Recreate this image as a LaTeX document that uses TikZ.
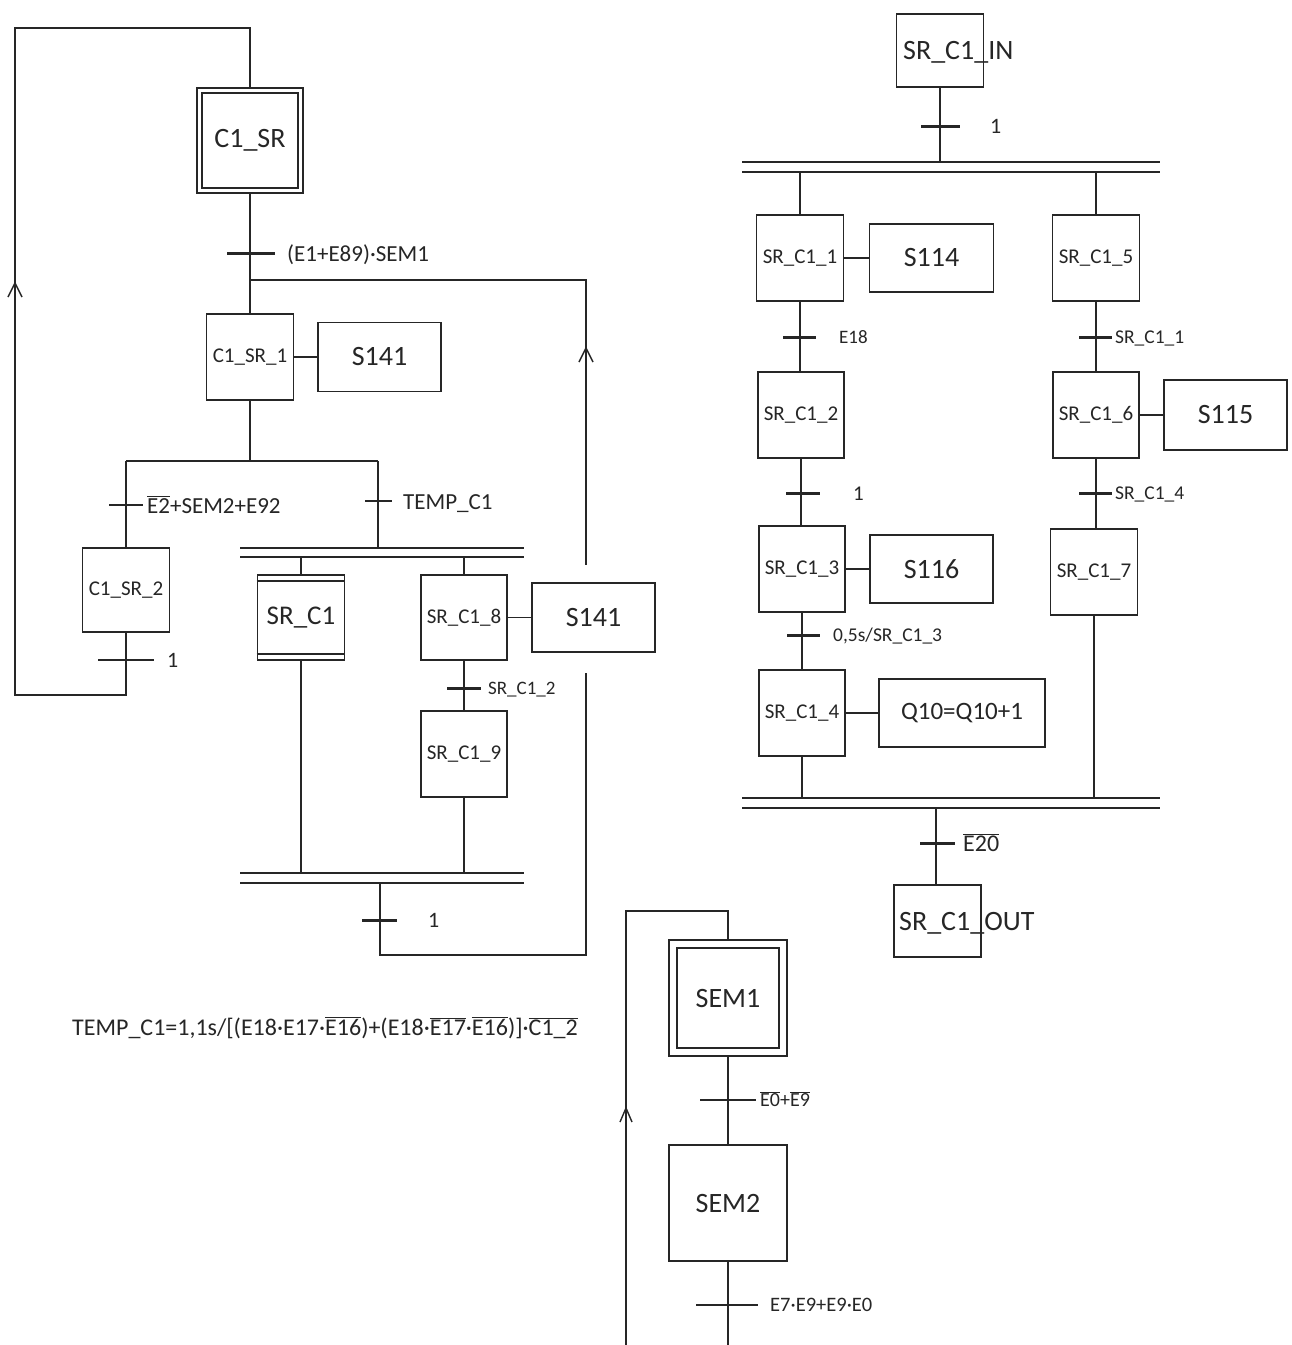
\documentclass[tikz,border=0pt]{standalone}
\usepackage{fontspec}
\setmainfont{Carlito}
\usetikzlibrary{calc}
\definecolor{ink}{gray}{0.15}
\newcommand\ovl[1]{$\overline{\mbox{#1}}$}
\newcommand\fsz[1]{\fontsize{#1}{#1}\selectfont}
\begin{document}
\begin{tikzpicture}[x=1pt,y=-1pt,
  ln/.style={draw=ink,line width=1.6pt},
  stepbox/.style={draw=ink,line width=1.6pt,inner sep=0pt,text=ink},
  actbox/.style={draw=ink,line width=1.6pt,inner sep=0pt,text=ink,font=\fsz{28}},
  tbar/.style={draw=ink,line width=3pt},
  tbarthin/.style={draw=ink,line width=2pt},
  tlab/.style={anchor=base west,inner sep=0pt,text=ink},
  chev/.style={draw=ink,line width=1.4pt}]
\useasboundingbox[fill=white] (0,0) rectangle (1292,1345);

% ================= LEFT CHART =================
\node[stepbox,minimum width=106pt,minimum height=105pt,font=\fsz{28}] (c1sr) at (250,140.5) {C1\_SR};
\draw[ln] ($(c1sr.north west)+(6,6)$) rectangle ($(c1sr.south east)+(-6,-6)$);
\node[stepbox,minimum width=87pt,minimum height=86pt,font=\fsz{21}] (c1sr1) at (250,357) {C1\_SR\_1};
\node[actbox,minimum width=123pt,minimum height=69pt] (s141a) at (379.5,357) {S141};
\node[stepbox,minimum width=87pt,minimum height=84pt,font=\fsz{21}] (c1sr2) at (126,590) {C1\_SR\_2};
\node[stepbox,minimum width=87pt,minimum height=85pt,font=\fsz{27}] (srC1) at (301,617.5) {SR\_C1};
\draw[ln] ($(srC1.north west)+(0,7)$) -- ($(srC1.north east)+(0,7)$);
\draw[ln] ($(srC1.south west)+(0,-7)$) -- ($(srC1.south east)+(0,-7)$);
\node[stepbox,minimum width=86pt,minimum height=85pt,font=\fsz{21}] (srC18) at (464,617.5) {SR\_C1\_8};
\node[actbox,minimum width=123pt,minimum height=69pt] (s141b) at (593.5,617.5) {S141};
\node[stepbox,minimum width=86pt,minimum height=86pt,font=\fsz{21}] (srC19) at (464,754) {SR\_C1\_9};

\coordinate (lt) at (15,28);
\coordinate (lb) at (15,695);
\draw[ln] (c1sr.north) |- (lt) -- (lb) -| (c1sr2.south);
\draw[chev] (8,297) -- (15,283) -- (22,297);

\draw[ln] (c1sr.south) -- (c1sr1.north);
\draw[tbar] (227,253) -- (275,253);
\node[tlab,font=\fsz{23}] (lbA) at (287,261) {(E1+E89)·SEM1};
\coordinate (j1) at (250,280);
\coordinate (r0) at (586,280);
\coordinate (r1) at (586,565);
\coordinate (r2) at (586,673);
\coordinate (rb) at (586,955);
\draw[ln] (j1) -- (r0) -- (r1);
\draw[chev] (579,362) -- (586,348) -- (593,362);
\draw[ln] (c1sr1.east) -- (s141a.west);

\coordinate (d0) at (250,461);
\coordinate (dl) at (126,461);
\coordinate (dr) at (378,461);
\coordinate (drb) at (378,548);
\draw[line width=2.2pt,draw=ink] (c1sr1.south) -- (d0);
\draw[ln] (dl) -- (dr);
\draw[ln] (dl) -- (c1sr2.north);
\draw[ln] (dr) -- (drb);
\draw[tbarthin] (109,505) -- (143,505);
\node[tlab,font=\fsz{23}] (lbB) at (147,513) {\ovl{E2}+SEM2+E92};
\draw[tbarthin] (365,501) -- (392,501);
\node[tlab,font=\fsz{23}] (lbC) at (403,509) {TEMP\_C1};
\draw[tbarthin] (98,660) -- (154,660);
\node[tlab,font=\fsz{22}] (lbD) at (167,667) {1};

% upper sync
\draw[ln] (240,548) -- (524,548);
\draw[ln] (240,557) -- (524,557);
\draw[ln] (srC1.north |- 0,557) -- (srC1.north);
\draw[ln] (srC18.north |- 0,557) -- (srC18.north);
\draw[ln] (srC18.east) -- (s141b.west);
\draw[ln] (srC18.south) -- (srC19.north);
\draw[tbar] (447,688) -- (481,688);
\node[tlab,font=\fsz{19}] (lbE) at (488,694) {SR\_C1\_2};
\draw[ln] (srC1.south) -- (srC1.south |- 0,873);
\draw[ln] (srC19.south) -- (srC19.south |- 0,873);
% lower sync
\draw[ln] (240,873) -- (524,873);
\draw[ln] (240,883) -- (524,883);
\coordinate (lo0) at (380,883);
\draw[ln] (lo0) |- (rb) -- (r2);
\draw[tbar] (362,920) -- (397,920);
\node[tlab,font=\fsz{22}] (lbF) at (428,927) {1};

% formula
\node[tlab,font=\fsz{24}] (formula) at (72,1035) {TEMP\_C1=1,1s/[(E18·E17·\ovl{E16})+(E18·\ovl{E17}·\ovl{E16})]·\ovl{C1\_2}};

% ================= RIGHT CHART =================
\node[stepbox,minimum width=87pt,minimum height=73pt] (srin) at (940,50.5) {};
\node[tlab,font=\fsz{28}] (srinT) at (903,59) {SR\_C1\_IN};
\draw[ln] (srin.south) -- (940,162);
\draw[tbar] (921,126) -- (960,126);
\node[tlab,font=\fsz{22}] (lbG) at (990,133) {1};
\draw[ln] (742,162) -- (1160,162);
\draw[ln] (742,172) -- (1160,172);

\node[stepbox,minimum width=87pt,minimum height=86pt,font=\fsz{21}] (sr1) at (800,258) {SR\_C1\_1};
\node[actbox,minimum width=124pt,minimum height=68pt] (s114) at (931.5,258) {S114};
\node[stepbox,minimum width=87pt,minimum height=86pt,font=\fsz{21}] (sr5) at (1096,258) {SR\_C1\_5};
\node[stepbox,minimum width=86pt,minimum height=86pt,font=\fsz{21}] (sr2) at (801,415) {SR\_C1\_2};
\node[stepbox,minimum width=86pt,minimum height=86pt,font=\fsz{21}] (sr6) at (1096,415) {SR\_C1\_6};
\node[actbox,minimum width=123pt,minimum height=70pt] (s115) at (1225.5,415) {S115};
\node[stepbox,minimum width=86pt,minimum height=86pt,font=\fsz{21}] (sr3) at (802,569) {SR\_C1\_3};
\node[actbox,minimum width=123pt,minimum height=68pt] (s116) at (931.5,569) {S116};
\node[stepbox,minimum width=87pt,minimum height=86pt,font=\fsz{21}] (sr7) at (1094,572) {SR\_C1\_7};
\node[stepbox,minimum width=86pt,minimum height=86pt,font=\fsz{21}] (sr4) at (802,713) {SR\_C1\_4};
\node[actbox,minimum width=166pt,minimum height=68pt,font=\fsz{25}] (q10) at (962,713) {Q10=Q10+1};

\draw[ln] (sr1.north |- 0,172) -- (sr1.north);
\draw[ln] (sr5.north |- 0,172) -- (sr5.north);
\draw[ln] (sr1.east) -- (s114.west);
\draw[ln] (sr1.south) -- (sr1.south |- sr2.north);
\draw[tbar] (783,337) -- (816,337);
\node[tlab,font=\fsz{19}] (lbH) at (839,343) {E18};
\draw[ln] (sr5.south) -- (sr5.south |- sr6.north);
\draw[tbar] (1079,337) -- (1112,337);
\node[tlab,font=\fsz{19.5}] (lbI) at (1115,343.3) {SR\_C1\_1};
\draw[ln] (sr6.east) -- (s115.west);
\draw[ln] (sr2.south) -- (sr2.south |- sr3.north);
\draw[tbar] (786,493) -- (820,493);
\node[tlab,font=\fsz{21}] (lbJ) at (853,500) {1};
\draw[ln] (sr6.south) -- (sr6.south |- sr7.north);
\draw[tbar] (1079,493) -- (1112,493);
\node[tlab,font=\fsz{19.5}] (lbK) at (1115,499.3) {SR\_C1\_4};
\draw[ln] (sr3.east) -- (s116.west);
\draw[ln] (sr3.south) -- (sr4.north);
\draw[tbar] (787,635) -- (820,635);
\node[tlab,font=\fsz{19.5}] (lbL) at (833,641.3) {0,5s/SR\_C1\_3};
\draw[ln] (sr4.east) -- (q10.west);
\draw[ln] (sr4.south) -- (sr4.south |- 0,798);
\draw[ln] (sr7.south) -- (sr7.south |- 0,798);
\draw[ln] (742,798) -- (1160,798);
\draw[ln] (742,808) -- (1160,808);

\node[stepbox,minimum width=87pt,minimum height=72pt] (srout) at (937.5,921) {};
\node[tlab,font=\fsz{28}] (sroutT) at (899,930) {SR\_C1\_OUT};
\draw[ln] (936,808) -- (srout.north -| 936,0);
\draw[tbar] (920,843) -- (955,843);
\node[tlab,font=\fsz{24}] (lbM) at (963,851) {\ovl{E20}};

% ================= SEM CHART =================
\node[stepbox,minimum width=118pt,minimum height=116pt,font=\fsz{28}] (sem1) at (728,998) {SEM1};
\draw[ln] ($(sem1.north west)+(9,9)$) rectangle ($(sem1.south east)+(-9,-9)$);
\node[stepbox,minimum width=118pt,minimum height=116pt,font=\fsz{28}] (sem2) at (728,1203) {SEM2};
\coordinate (st) at (626,911);
\coordinate (sb) at (626,1345);
\coordinate (s2b) at (728,1345);
\draw[ln] (sem1.north) |- (st) -- (sb);
\draw[chev] (620,1122) -- (626,1108) -- (632,1122);
\draw[ln] (sem1.south) -- (sem2.north);
\draw[tbarthin] (700,1100) -- (756,1100);
\node[tlab,font=\fsz{20}] (lbN) at (760,1106.5) {\ovl{E0}+\ovl{E9}};
\draw[ln] (sem2.south) -- (s2b);
\draw[tbarthin] (696,1305) -- (758,1305);
\node[tlab,font=\fsz{20.5}] (lbO) at (770,1311.7) {E7·E9+E9·E0};
\end{tikzpicture}
\end{document}
